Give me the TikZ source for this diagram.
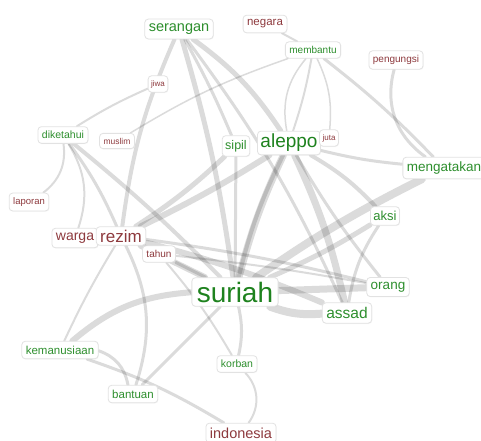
\documentclass[tikz,border=0pt]{standalone}
\usepackage{fontspec}
\setmainfont{Liberation Sans}
\usetikzlibrary{backgrounds,shadows}
\definecolor{wgreen}{HTML}{2E8F2E}
\definecolor{wgreendark}{HTML}{1E821E}
\definecolor{wred}{HTML}{8E3A3E}
\definecolor{boxline}{HTML}{E2E2E2}
\tikzset{
  word/.style={draw=boxline, fill=white, rounded corners=3.5pt,
    inner xsep=4pt, inner ysep=4.5pt, line width=0.8pt,
    drop shadow={shadow xshift=0.6pt, shadow yshift=-0.8pt, opacity=0.07}},
  wpos/.style={word, text=wgreen},
  wneg/.style={word, text=wred},
  lnk/.style={draw=black, draw opacity=0.14, line width=#1pt, line cap=round},
  lnk/.default=2
}
\begin{document}
\begin{tikzpicture}[x=1pt, y=-1pt]
\useasboundingbox (0,0) rectangle (481,440);

% words
\node[wpos, font=\fontsize{14.5}{16}\selectfont] (serangan) at (179,29) {serangan};
\node[wneg, font=\fontsize{11.5}{13}\selectfont] (negara) at (265,24) {negara};
\node[wpos, font=\fontsize{10}{12}\selectfont] (membantu) at (313,50) {membantu};
\node[wneg, font=\fontsize{10}{12}\selectfont] (pengungsi) at (396,60) {pengungsi};
\node[wneg, font=\fontsize{8}{10}\selectfont, inner xsep=3pt] (jiwa) at (158,84) {jiwa};
\node[wpos, font=\fontsize{10.5}{12}\selectfont] (diketahui) at (63,135) {diketahui};
\node[wneg, font=\fontsize{8.5}{10}\selectfont] (muslim) at (117,141) {muslim};
\node[wpos, font=\fontsize{12.5}{14}\selectfont, inner xsep=3pt] (sipil) at (236,146) {sipil};
\node[wpos, text=wgreendark, font=\fontsize{19}{21}\selectfont, inner xsep=3pt, inner ysep=3pt] (aleppo) at (289,143) {aleppo};
\node[wneg, font=\fontsize{8}{10}\selectfont, inner xsep=3pt] (juta) at (329,138) {juta};
\node[wpos, font=\fontsize{13.5}{15}\selectfont] (mengatakan) at (444,168) {mengatakan};
\node[wneg, font=\fontsize{9.5}{11}\selectfont] (laporan) at (29,202) {laporan};
\node[wpos, font=\fontsize{13}{15}\selectfont, inner xsep=3pt] (aksi) at (385,216) {aksi};
\node[wneg, font=\fontsize{14}{16}\selectfont] (warga) at (75,238) {warga};
\node[wneg, font=\fontsize{17}{19}\selectfont, inner ysep=3pt] (rezim) at (121,236) {rezim};
\node[wneg, font=\fontsize{10}{12}\selectfont] (tahun) at (159,254) {tahun};
\node[wpos, text=wgreendark, font=\fontsize{28}{30}\selectfont, inner xsep=5pt, inner ysep=4pt] (suriah) at (235,292) {suriah};
\node[wpos, font=\fontsize{13.5}{15}\selectfont] (orang) at (388,287) {orang};
\node[wpos, font=\fontsize{15.5}{17}\selectfont] (assad) at (347,313) {assad};
\node[wpos, font=\fontsize{11.5}{13}\selectfont] (kemanusiaan) at (60,350) {kemanusiaan};
\node[wpos, font=\fontsize{10.5}{12}\selectfont] (korban) at (237,364) {korban};
\node[wpos, font=\fontsize{11.5}{13}\selectfont] (bantuan) at (133,394) {bantuan};
\node[wneg, font=\fontsize{14.5}{16}\selectfont] (indonesia) at (241,433) {indonesia};

% links, weighted by co-occurrence
\begin{scope}[on background layer]
  \fill[white] (0,0) rectangle (481,440);
  % serangan
  \draw[lnk=5] (serangan) to[bend left=4] (suriah);
  \draw[lnk=4] (serangan) to[bend right=8] (rezim);
  \draw[lnk=5] (serangan) to[bend left=10] (aleppo);
  \draw[lnk=3] (serangan) to[bend left=3] (sipil);
  \draw[lnk=3] (serangan) to[bend left=6] (assad);
  % membantu cluster
  \draw[lnk=2] (negara) -- (membantu);
  \draw[lnk=1.5] (membantu) to[bend right=6] (muslim);
  \draw[lnk=1.5] (membantu) to[bend right=25] (aleppo);
  \draw[lnk=2] (membantu) to[bend left=4] (aleppo);
  \draw[lnk=1.5] (membantu) to[bend left=15] (juta);
  \draw[lnk=3] (membantu) to[bend left=4] (mengatakan);
  \draw[lnk=3] (pengungsi) to[bend right=35] (mengatakan);
  % aleppo
  \draw[lnk=3] (aleppo) to[bend right=4] (mengatakan);
  \draw[lnk=7] (aleppo) to[bend right=5] (suriah);
  \draw[lnk=4] (aleppo) to[bend right=6] (suriah);
  \draw[lnk=6] (aleppo) to[bend left=3] (rezim);
  \draw[lnk=7] (aleppo) to[bend left=6] (assad);
  \draw[lnk=4] (aleppo) to[bend left=8] (aksi);
  \draw[lnk=3] (aleppo) to[bend right=4] (orang);
  \draw[lnk=5] (sipil) to[bend left=5] (rezim);
  \draw[lnk=3] (sipil) -- (suriah);
  % right side
  \draw[lnk=8] (mengatakan) to[bend right=4] (suriah);
  \draw[lnk=5] (aksi) to[bend left=4] (suriah);
  \draw[lnk=3] (aksi) to[bend right=12] (assad);
  \draw[lnk=7] (suriah) -- (orang);
  \draw[lnk=8] (suriah) to[bend right=12] (assad);
  % rezim and tahun
  \draw[lnk=6] (rezim) to[bend left=4] (assad);
  \draw[lnk=3] (rezim) to[bend left=3] (orang);
  \draw[lnk=2] (tahun) to[bend left=2] (orang);
  \draw[lnk=6] (rezim) -- (suriah);
  \draw[lnk=3] (tahun) -- (suriah);
  \draw[lnk=2] (tahun) to[bend left=5] (korban);
  % left side
  \draw[lnk=2] (jiwa) to[bend right=4] (diketahui);
  \draw[lnk=4] (diketahui) to[bend left=3] (suriah);
  \draw[lnk=3] (diketahui) to[bend left=6] (rezim);
  \draw[lnk=2] (diketahui) to[bend left=25] (warga);
  \draw[lnk=2] (diketahui) to[bend left=30] (laporan);
  \draw[lnk=2] (rezim) to[bend right=3] (kemanusiaan);
  % lower part
  \draw[lnk=3] (rezim) to[bend left=22] (bantuan);
  \draw[lnk=6] (suriah) to[bend right=18] (kemanusiaan);
  \draw[lnk=3] (suriah) -- (bantuan);
  \draw[lnk=3] (suriah) to[bend left=12] (korban);
  \draw[lnk=3] (kemanusiaan) to[bend left=30] (bantuan);
  \draw[lnk=3] (kemanusiaan) to[bend left=6] (indonesia);
  \draw[lnk=2] (korban) to[bend left=40] (indonesia);
\end{scope}
\end{tikzpicture}
\end{document}
